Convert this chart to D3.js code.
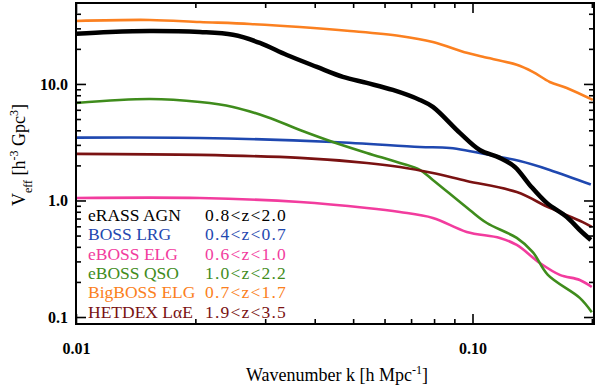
<!DOCTYPE html>
<html>
<head>
<meta charset="utf-8">
<script src="https://cdn.jsdelivr.net/npm/d3@7"></script>
<style>
  body { margin: 0; background: #fff; }
  svg text { font-family: "Liberation Serif", "Times New Roman", serif; }
</style>
</head>
<body>
<div id="chart"></div>
<script>
// chart size and plot box
const width = 600,
    height = 386,
    plotLeft = 76, plotRight = 594, plotTop = 3, plotBottom = 324;

// data (k in h/Mpc, Veff in h^-3 Gpc^3)
const seriesNames = ["eRASS AGN", "BOSS LRG", "eBOSS ELG", "eBOSS QSO", "BigBOSS ELG", "HETDEX L\u03b1E"];
const redshifts = ["0.8<z<2.0", "0.4<z<0.7", "0.6<z<1.0", "1.0<z<2.2", "0.7<z<1.7", "1.9<z<3.5"];
const colors = ["#000000", "#1f48b0", "#f23c9e", "#3f8c1c", "#fb8020", "#7a1212"];

const kAGN = [0.0100, 0.01218, 0.01536, 0.02054, 0.02488, 0.02909, 0.03403, 0.04050, 0.04711, 0.05413, 0.06296, 0.07366, 0.07943, 0.0929, 0.1043, 0.1172, 0.1279, 0.1394, 0.1539, 0.1729, 0.1864, 0.1988];
const vAGN = [26.9, 27.9, 28.5, 27.9, 26.4, 22.5, 17.7, 14.0, 11.5, 10.2, 8.88, 7.29, 6.35, 3.80, 2.71, 2.32, 1.94, 1.36, 0.953, 0.722, 0.558, 0.458];

const kLRG = [0.0100, 0.02054, 0.04444, 0.07366, 0.0877, 0.1172, 0.1316, 0.1566, 0.1988];
const vLRG = [3.46, 3.44, 3.18, 2.88, 2.82, 2.36, 2.18, 1.83, 1.37];

const kELG = [0.0100, 0.02054, 0.0367, 0.05413, 0.0656, 0.07943, 0.0967, 0.1172, 0.1293, 0.1478, 0.1660, 0.1864, 0.1999];
const vELG = [1.05, 1.05, 0.97, 0.863, 0.796, 0.708, 0.537, 0.477, 0.415, 0.291, 0.230, 0.208, 0.181];

const kQSO = [0.0100, 0.01536, 0.02054, 0.02488, 0.03031, 0.0367, 0.04444, 0.05413, 0.0656, 0.07366, 0.07943, 0.0984, 0.1087, 0.1293, 0.1419, 0.1549, 0.1864, 0.1999];
const vQSO = [6.87, 7.43, 7.0, 6.35, 5.21, 4.03, 3.18, 2.56, 2.10, 1.83, 1.50, 0.829, 0.641, 0.477, 0.361, 0.230, 0.146, 0.110];

const kBig = [0.0100, 0.01536, 0.02054, 0.02746, 0.0367, 0.0491, 0.0656, 0.07943, 0.0967, 0.1062, 0.1293, 0.1419, 0.1566, 0.1729, 0.2011];
const vBig = [34.7, 35.4, 34.0, 32.7, 30.8, 28.5, 25.8, 22.9, 18.5, 17.1, 14.6, 12.7, 10.4, 9.24, 7.29];

const kLAE = [0.0100, 0.02054, 0.0367, 0.05413, 0.0656, 0.07943, 0.0967, 0.1293, 0.1566, 0.1897, 0.1999];
const vLAE = [2.51, 2.46, 2.32, 2.10, 1.94, 1.72, 1.47, 1.18, 0.863, 0.653, 0.593];

const xMajor = [0.01, 0.1];
const xMinor = [0.02, 0.03, 0.04, 0.05, 0.06, 0.07, 0.08, 0.09, 0.2];
const yMajor = [0.1, 1, 10];
const yMinor = [0.2, 0.3, 0.4, 0.5, 0.6, 0.7, 0.8, 0.9, 2, 3, 4, 5, 6, 7, 8, 9, 20, 30, 40];

const serif = "'Liberation Serif', 'Times New Roman', serif";

document.addEventListener("DOMContentLoaded", function () {
  const series = [
    {k: kAGN, v: vAGN, w: 4.5},
    {k: kLRG, v: vLRG, w: 2.6},
    {k: kELG, v: vELG, w: 2.6},
    {k: kQSO, v: vQSO, w: 2.6},
    {k: kBig, v: vBig, w: 2.6},
    {k: kLAE, v: vLAE, w: 2.6}
  ];
  drawGraph(series);
});

function drawGraph(series) {
  const svg = d3.select("#chart")
    .append("svg")
    .attr("width", width)
    .attr("height", height)
    .attr("font-family", serif);

  const x = d3.scaleLog().domain([0.01, 0.2025]).range([plotLeft, plotRight]);
  const y = d3.scaleLog().domain([0.0871, 49.5]).range([plotBottom, plotTop]);

  svg.append("clipPath").attr("id", "clip")
    .append("rect")
    .attr("x", plotLeft).attr("y", plotTop)
    .attr("width", plotRight - plotLeft).attr("height", plotBottom - plotTop);

  const line = d3.line()
    .x(d => x(d[0]))
    .y(d => y(d[1]))
    .curve(d3.curveCatmullRom.alpha(0.5));

  // curves: draw black last so it sits on top like the original
  const order = [1, 2, 3, 4, 5, 0];
  svg.append("g")
    .attr("clip-path", "url(#clip)")
    .selectAll("path")
    .data(order)
    .join("path")
      .attr("fill", "none")
      .attr("stroke", i => colors[i])
      .attr("stroke-width", i => series[i].w)
      .attr("stroke-linejoin", "round")
      .attr("d", i => line(d3.zip(series[i].k, series[i].v)));

  // axes (ticks point inward)
  const fmtX = d => d === 0.01 ? "0.01" : "0.10";
  const fmtY = d => d3.format(".1f")(d);

  const ax = [
    {a: d3.axisBottom(x).tickValues(xMajor).tickSize(-10).tickPadding(19).tickFormat(fmtX), t: `translate(0,${plotBottom})`},
    {a: d3.axisBottom(x).tickValues(xMinor).tickSize(-5).tickFormat(""), t: `translate(0,${plotBottom})`},
    {a: d3.axisTop(x).tickValues(xMajor).tickSize(-10).tickFormat(""), t: `translate(0,${plotTop})`},
    {a: d3.axisTop(x).tickValues(xMinor).tickSize(-5).tickFormat(""), t: `translate(0,${plotTop})`},
    {a: d3.axisLeft(y).tickValues(yMajor).tickSize(-10).tickPadding(8).tickFormat(fmtY), t: `translate(${plotLeft},0)`},
    {a: d3.axisLeft(y).tickValues(yMinor).tickSize(-5).tickFormat(""), t: `translate(${plotLeft},0)`},
    {a: d3.axisRight(y).tickValues(yMajor).tickSize(-10).tickFormat(""), t: `translate(${plotRight},0)`},
    {a: d3.axisRight(y).tickValues(yMinor).tickSize(-5).tickFormat(""), t: `translate(${plotRight},0)`}
  ];
  ax.forEach(function (o) {
    const g = svg.append("g").attr("transform", o.t).call(o.a);
    g.attr("font-family", serif).attr("font-size", 16);
    g.select(".domain").remove();
    g.selectAll("line").attr("stroke", "#000").attr("stroke-width", 1.6);
    g.selectAll("text")
      .attr("fill", "#000")
      .attr("font-weight", "bold");
  });

  svg.append("rect")
    .attr("x", plotLeft).attr("y", plotTop)
    .attr("width", plotRight - plotLeft).attr("height", plotBottom - plotTop)
    .attr("fill", "none")
    .attr("stroke", "#000")
    .attr("stroke-width", 2);

  // axis titles
  const xt = svg.append("text")
    .attr("x", (plotLeft + plotRight) / 2 + 2)
    .attr("y", 381)
    .attr("text-anchor", "middle")
    .attr("font-size", 18);
  xt.append("tspan").text("Wavenumber k [h Mpc");
  xt.append("tspan").attr("baseline-shift", "super").attr("font-size", 12).text("-1");
  xt.append("tspan").text("]");

  const yt = svg.append("text")
    .attr("transform", "translate(25,155) rotate(-90)")
    .attr("text-anchor", "middle")
    .attr("font-size", 18);
  yt.append("tspan").text("V");
  yt.append("tspan").attr("baseline-shift", "sub").attr("font-size", 12).text("eff");
  yt.append("tspan").text(" [h");
  yt.append("tspan").attr("baseline-shift", "super").attr("font-size", 12).text("-3");
  yt.append("tspan").text(" Gpc");
  yt.append("tspan").attr("baseline-shift", "super").attr("font-size", 12).text("3");
  yt.append("tspan").text("]");

  // legend
  const legend = svg.append("g")
    .selectAll("g")
    .data(seriesNames)
    .join("g")
    .attr("transform", (d, i) => `translate(88, ${221 + i * 19.3})`);

  legend.append("text")
    .attr("fill", (d, i) => colors[i])
    .attr("font-size", 17.5)
    .text(d => d);

  legend.append("text")
    .attr("x", 117)
    .attr("fill", (d, i) => colors[i])
    .attr("font-size", 17.5)
    .attr("letter-spacing", 1.2)
    .text((d, i) => redshifts[i]);
}
</script>
</body>
</html>
